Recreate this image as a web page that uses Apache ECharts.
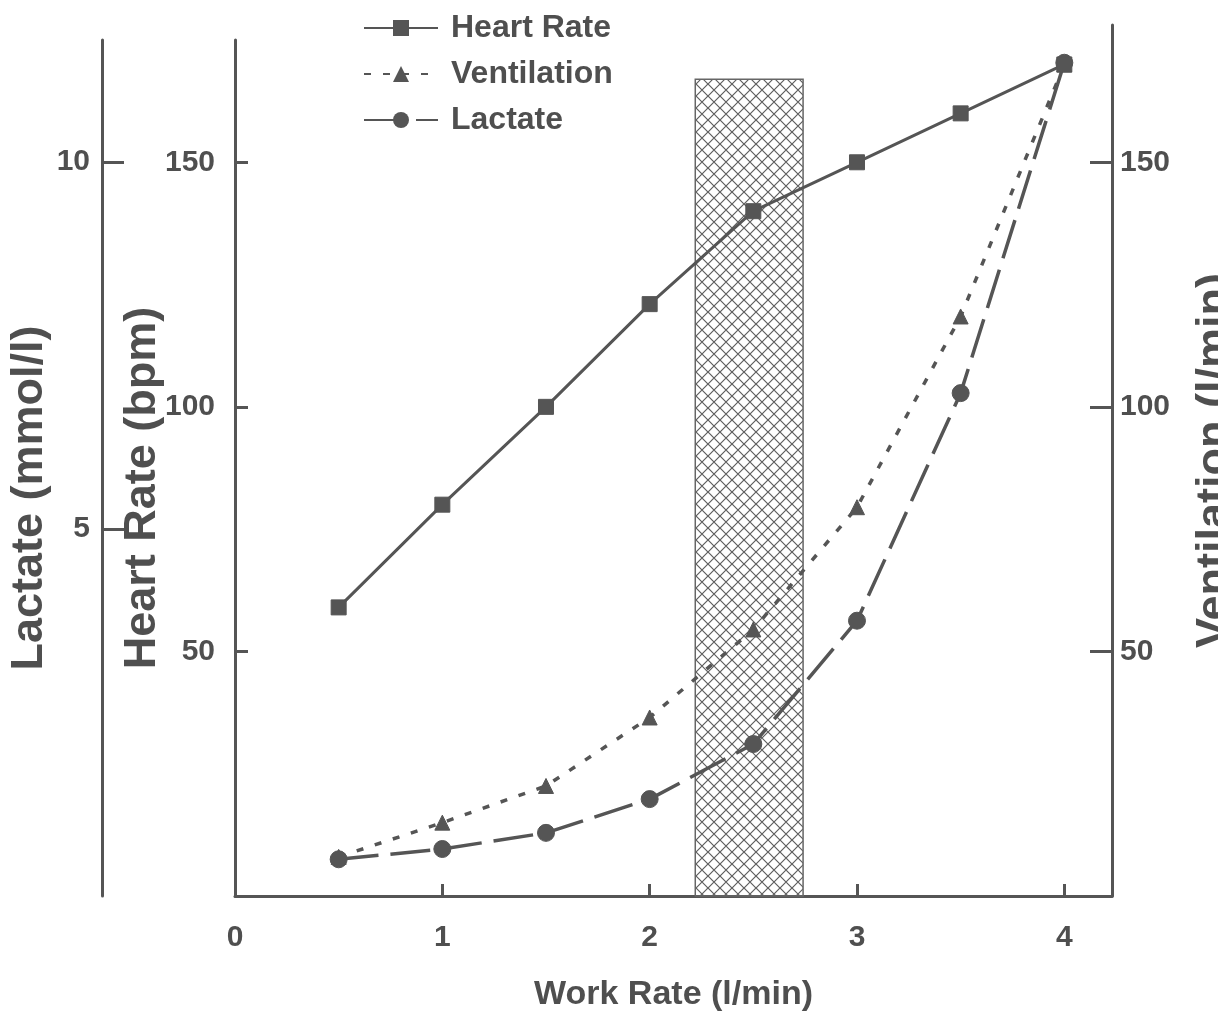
<!DOCTYPE html>
<html>
<head>
<meta charset="utf-8">
<title>Heart Rate, Ventilation and Lactate vs Work Rate</title>
<script src="https://cdn.jsdelivr.net/npm/echarts@6/dist/echarts.min.js"></script>
<style>
  html, body { margin: 0; padding: 0; background: #fff; }
  #chart { width: 1218px; height: 1018px; }
</style>
</head>
<body>
<div id="chart"></div>
<script>
// work rate steps (l/min)
var workRate = [0.5, 1, 1.5, 2, 2.5, 3, 3.5, 4];
var heartRate = [59, 80, 100, 121, 140, 150, 160, 170];          // bpm
var ventilation = [8, 15, 22.5, 36.5, 54.5, 79.5, 118.5, 170];   // l/min
var lactate = [0.5, 0.64, 0.86, 1.32, 2.07, 3.75, 6.85, 11.35];  // mmol/l

// hatched threshold zone: work rate range and top (bpm)
var zoneRange = [2.22, 2.74];
var zoneTop = 167;

// tick labels
var xTicks = [0, 1, 2, 3, 4];
var xInnerTicks = [1, 2, 3, 4];
var hrTicks = [50, 100, 150];
var ventTicks = [50, 100, 150];
var lacTicks = [5, 10];

var ink = "#555555";
var textInk = "#4f4f4f";
var font = "'Liberation Sans', Arial, sans-serif";

function pairs(ys) {
  return workRate.map(function(x, i) {
    return [x, ys[i]];
  });
}

// cross hatch tile for the threshold box
function hatchTile() {
  var s = 12;
  var c = document.createElement("canvas");
  c.width = s;
  c.height = s;
  var g = c.getContext("2d");
  g.strokeStyle = "#5e5e5e";
  g.lineWidth = 1.2;
  g.beginPath();
  g.moveTo(-1, -1);
  g.lineTo(s + 1, s + 1);
  g.moveTo(s + 1, -1);
  g.lineTo(-1, s + 1);
  g.stroke();
  return c;
}
var hatch = hatchTile();

var axisLineStyle = { color: ink, width: 3 };
var labelStyle = {
  color: textInk,
  fontFamily: font,
  fontWeight: "bold",
  fontSize: 30
};
var nameStyle = {
  color: textInk,
  fontFamily: font,
  fontWeight: "bold",
  fontSize: 45
};

var chart = echarts.init(document.getElementById("chart"));

chart.setOption({
  backgroundColor: "#ffffff",
  animation: false,
  grid: [
    { left: 235, right: 106, top: 40, bottom: 122, outerBoundsMode: "none" },
    { left: 235, right: 106, top: 25, bottom: 122, outerBoundsMode: "none" }
  ],
  legend: {
    orient: "vertical",
    left: 358,
    top: 6,
    itemWidth: 74,
    itemHeight: 20,
    itemGap: 12,
    data: ["Heart Rate", "Ventilation", "Lactate"],
    textStyle: {
      color: textInk,
      fontFamily: font,
      fontWeight: "bold",
      fontSize: 32,
      lineHeight: 34,
      padding: [0, 0, 0, 8]
    }
  },
  xAxis: [
    {
      gridIndex: 0,
      type: "value",
      min: 0,
      max: 4.23,
      interval: 1,
      name: "Work Rate (l/min)",
      nameLocation: "middle",
      nameGap: 82,
      nameMoveOverlap: false,
      nameTextStyle: Object.assign({}, nameStyle, { fontSize: 34 }),
      axisLine: { show: true, onZero: false, lineStyle: axisLineStyle },
      axisTick: {
        show: true,
        inside: true,
        length: 12,
        customValues: xInnerTicks,
        lineStyle: axisLineStyle
      },
      axisLabel: Object.assign({ customValues: xTicks, margin: 27 }, labelStyle),
      splitLine: { show: false }
    },
    {
      gridIndex: 1,
      type: "value",
      min: 0,
      max: 4.23,
      show: false
    }
  ],
  yAxis: [
    {
      // heart rate
      gridIndex: 0,
      type: "value",
      position: "left",
      min: 0,
      max: 175,
      name: "Heart Rate (bpm)",
      nameLocation: "middle",
      nameRotate: 90,
      nameGap: 70,
      nameMoveOverlap: false,
      nameTextStyle: Object.assign({}, nameStyle, { padding: [0, 40, 0, 0] }),
      axisLine: { show: true, onZero: false, lineStyle: axisLineStyle },
      axisTick: {
        show: true,
        inside: true,
        length: 13,
        customValues: hrTicks,
        lineStyle: axisLineStyle
      },
      axisLabel: Object.assign({ customValues: hrTicks, margin: 20 }, labelStyle),
      splitLine: { show: false }
    },
    {
      // lactate
      gridIndex: 0,
      type: "value",
      position: "left",
      offset: 133,
      min: 0,
      max: 11.66,
      name: "Lactate (mmol/l)",
      nameLocation: "middle",
      nameRotate: 90,
      nameGap: 50,
      nameMoveOverlap: false,
      nameTextStyle: Object.assign({}, nameStyle, { padding: [0, 60, 0, 0] }),
      axisLine: { show: true, onZero: false, lineStyle: axisLineStyle },
      axisTick: {
        show: true,
        inside: true,
        length: 22,
        customValues: lacTicks,
        lineStyle: axisLineStyle
      },
      axisLabel: Object.assign({ customValues: lacTicks, margin: 12 }, labelStyle),
      splitLine: { show: false }
    },
    {
      // ventilation
      gridIndex: 1,
      type: "value",
      position: "right",
      min: 0,
      max: 178.1,
      name: "Ventilation (l/min)",
      nameLocation: "middle",
      nameRotate: 90,
      nameGap: 80,
      nameMoveOverlap: false,
      nameTextStyle: nameStyle,
      axisLine: { show: true, onZero: false, lineStyle: axisLineStyle },
      axisTick: {
        show: true,
        inside: true,
        length: 22,
        customValues: ventTicks,
        lineStyle: axisLineStyle
      },
      axisLabel: Object.assign({ customValues: ventTicks, margin: 8 }, labelStyle),
      splitLine: { show: false }
    }
  ],
  series: [
    {
      name: "zone",
      type: "custom",
      xAxisIndex: 0,
      yAxisIndex: 0,
      z: 1,
      silent: true,
      data: [[zoneRange[0], zoneRange[1], zoneTop]],
      encode: { x: [0, 1], y: 2 },
      renderItem: function(params, api) {
        var p0 = api.coord([api.value(0), api.value(2)]);
        var p1 = api.coord([api.value(1), 0]);
        return {
          type: "rect",
          shape: {
            x: p0[0],
            y: p0[1],
            width: p1[0] - p0[0],
            height: p1[1] - p0[1]
          },
          style: {
            fill: { image: hatch, repeat: "repeat" },
            stroke: "#666666",
            lineWidth: 1.5
          }
        };
      }
    },
    {
      name: "Heart Rate",
      type: "line",
      xAxisIndex: 0,
      yAxisIndex: 0,
      z: 4,
      data: pairs(heartRate),
      symbol: "rect",
      symbolSize: 15,
      itemStyle: { color: ink, borderColor: ink },
      lineStyle: { color: ink, width: 3 }
    },
    {
      name: "Ventilation",
      type: "line",
      xAxisIndex: 1,
      yAxisIndex: 2,
      z: 3,
      data: pairs(ventilation),
      symbol: "triangle",
      symbolSize: 15,
      itemStyle: { color: ink, borderColor: ink },
      lineStyle: { color: ink, width: 3.5, type: [7, 12] }
    },
    {
      name: "Lactate",
      type: "line",
      xAxisIndex: 0,
      yAxisIndex: 1,
      z: 3,
      data: pairs(lactate),
      symbol: "circle",
      symbolSize: 17,
      itemStyle: { color: ink, borderColor: ink },
      lineStyle: { color: ink, width: 3.5, type: [40, 12] }
    }
  ]
});
</script>
</body>
</html>
